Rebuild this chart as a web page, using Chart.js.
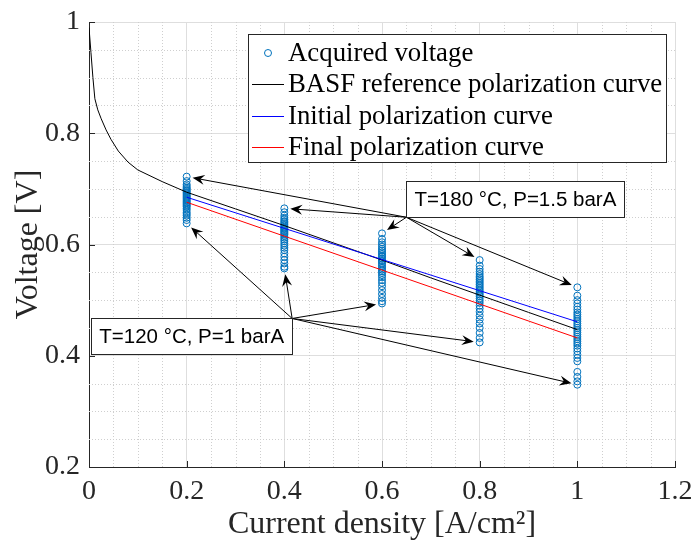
<!DOCTYPE html>
<html lang="en">
<head>
<meta charset="UTF-8">
<title>Polarization curves</title>
<script src="https://cdn.jsdelivr.net/npm/chart.js@4.4.0/dist/chart.umd.min.js"></script>
<style>
  html, body { margin: 0; padding: 0; background: #fff; }
  #wrap { width: 694px; height: 545px; }
</style>
</head>
<body>
<div id="wrap"><canvas id="polChart" width="694" height="545"></canvas></div>
<script>
// current densities where the stack voltage was sampled [A/cm²]
const currents = [0.2, 0.4, 0.6, 0.8, 1.0];

// acquired voltages at each current density [V]
const voltsAt02 = [0.722, 0.714, 0.708, 0.705, 0.702, 0.700, 0.698, 0.696, 0.694, 0.692, 0.690, 0.688, 0.686, 0.684, 0.682,
                   0.680, 0.678, 0.676, 0.674, 0.672, 0.670, 0.668, 0.665, 0.662, 0.658, 0.655, 0.652, 0.648, 0.644, 0.638];
const voltsAt04 = [0.665, 0.658, 0.652, 0.648, 0.645, 0.642, 0.640, 0.637, 0.635, 0.632, 0.630, 0.628, 0.626, 0.624, 0.622,
                   0.620, 0.618, 0.615, 0.612, 0.609, 0.606, 0.602, 0.598, 0.594, 0.590, 0.584, 0.578, 0.572, 0.566, 0.560, 0.557];
const voltsAt06 = [0.620, 0.610, 0.604, 0.600, 0.596, 0.592, 0.589, 0.586, 0.583, 0.580, 0.578, 0.575, 0.572, 0.570, 0.567,
                   0.564, 0.561, 0.558, 0.555, 0.552, 0.549, 0.545, 0.541, 0.536, 0.531, 0.525, 0.518, 0.511, 0.504, 0.498, 0.494];
const voltsAt08 = [0.572, 0.562, 0.556, 0.551, 0.547, 0.543, 0.540, 0.537, 0.534, 0.531, 0.528, 0.525, 0.522, 0.519, 0.516,
                   0.513, 0.510, 0.507, 0.503, 0.499, 0.495, 0.490, 0.485, 0.479, 0.472, 0.465, 0.458, 0.450, 0.441, 0.432, 0.424];
const voltsAt10 = [0.523, 0.508, 0.500, 0.494, 0.488, 0.483, 0.478, 0.474, 0.470, 0.466, 0.462, 0.458, 0.454, 0.450, 0.446,
                   0.442, 0.438, 0.434, 0.430, 0.426, 0.422, 0.418, 0.413, 0.408, 0.402, 0.396, 0.390, 0.371, 0.362, 0.354, 0.348];
const acquired = [voltsAt02, voltsAt04, voltsAt06, voltsAt08, voltsAt10];

// BASF datasheet polarization curve
const basfCurrent = [0, 0.004, 0.008, 0.012, 0.018, 0.025, 0.035, 0.045, 0.06, 0.08, 0.1, 0.15, 0.2,
                     0.3, 0.4, 0.5, 0.6, 0.7, 0.8, 0.9, 1.0];
const basfVoltage = [0.99, 0.945, 0.9, 0.862, 0.842, 0.826, 0.806, 0.789, 0.768, 0.748, 0.734, 0.713, 0.694,
                     0.664, 0.634, 0.603, 0.572, 0.540, 0.509, 0.478, 0.447];

// fitted curves at the start and end of the test
const initialVoltage = [0.685, 0.629, 0.573, 0.517, 0.461];
const finalVoltage = [0.676, 0.615, 0.554, 0.493, 0.432];

const xTicks = [0, 0.2, 0.4, 0.6, 0.8, 1, 1.2];
const yTicks = [0.2, 0.4, 0.6, 0.8, 1];

const seriesNames = ['Acquired voltage', 'BASF reference polarization curve',
                     'Initial polarization curve', 'Final polarization curve'];
const hotLabel = 'T=180 °C, P=1.5 barA';
const coldLabel = 'T=120 °C, P=1 barA';

const seriesColors = ['#0072BD', '#000000', '#0000FF', '#FF0000'];
const AXIS = '#262626';
const SERIF = '"Liberation Serif", "Times New Roman", serif';
const SANS = '"Liberation Sans", Arial, sans-serif';

const pairs = (xs, ys) => xs.map((x, i) => ({ x: x, y: ys[i] }));
const scatterPts = [];
acquired.forEach((col, i) => col.forEach(v => scatterPts.push({ x: currents[i], y: v })));

// dotted minor grid every 0.05 plus inward major ticks
const minorGrid = {
  id: 'minorGrid',
  beforeDatasetsDraw(chart) {
    const { ctx, chartArea: a, scales: { x, y } } = chart;
    ctx.save();
    ctx.strokeStyle = '#cfcfcf';
    ctx.lineWidth = 1;
    ctx.setLineDash([1, 2]);
    ctx.beginPath();
    for (let i = 1; i < 24; i++) {
      if (i % 4 === 0) continue;
      const px = Math.round(x.getPixelForValue(i * 0.05)) + 0.5;
      ctx.moveTo(px, a.top); ctx.lineTo(px, a.bottom);
    }
    for (let i = 1; i < 16; i++) {
      if (i % 4 === 0) continue;
      const py = Math.round(y.getPixelForValue(0.2 + i * 0.05)) + 0.5;
      ctx.moveTo(a.left, py); ctx.lineTo(a.right, py);
    }
    ctx.stroke();
    ctx.setLineDash([]);
    ctx.strokeStyle = AXIS;
    ctx.beginPath();
    xTicks.forEach(v => {
      const px = Math.round(x.getPixelForValue(v)) + 0.5;
      ctx.moveTo(px, a.bottom); ctx.lineTo(px, a.bottom - 6);
    });
    yTicks.forEach(v => {
      const py = Math.round(y.getPixelForValue(v)) + 0.5;
      ctx.moveTo(a.left, py); ctx.lineTo(a.left + 6, py);
    });
    ctx.stroke();
    ctx.restore();
  }
};

function arrow(ctx, x0, y0, x1, y1, gap) {
  const dx = x1 - x0, dy = y1 - y0;
  const len = Math.hypot(dx, dy);
  const ux = dx / len, uy = dy / len;
  const tx = x1 - ux * gap, ty = y1 - uy * gap;
  const L = 12, W = 5;
  ctx.beginPath();
  ctx.moveTo(x0, y0); ctx.lineTo(tx - ux * 6, ty - uy * 6);
  ctx.stroke();
  ctx.beginPath();
  ctx.moveTo(tx, ty);
  ctx.lineTo(tx - ux * L - uy * W, ty - uy * L + ux * W);
  ctx.lineTo(tx - ux * L * 0.65, ty - uy * L * 0.65);
  ctx.lineTo(tx - ux * L + uy * W, ty - uy * L - ux * W);
  ctx.closePath();
  ctx.fill();
}

function textBox(ctx, text, px, py, corner) {
  ctx.font = '20.5px ' + SANS;
  const w = ctx.measureText(text).width + 16;
  const h = 36;
  const left = corner === 'bottomLeft' ? px : px - w;
  const top = corner === 'bottomLeft' ? py - h : py;
  ctx.fillStyle = '#fff';
  ctx.fillRect(left, top, w, h);
  ctx.strokeStyle = AXIS;
  ctx.lineWidth = 1;
  ctx.strokeRect(Math.round(left) + 0.5, Math.round(top) + 0.5, Math.round(w), h);
  ctx.fillStyle = '#000';
  ctx.textAlign = 'center';
  ctx.textBaseline = 'middle';
  ctx.fillText(text, left + w / 2, top + h / 2 + 1);
}

// operating condition callouts pointing at the extreme samples of each column
const callouts = {
  id: 'callouts',
  afterDatasetsDraw(chart) {
    const { ctx, scales: { x, y } } = chart;
    ctx.save();
    ctx.strokeStyle = '#000';
    ctx.fillStyle = '#000';
    ctx.lineWidth = 1;
    const hx = x.getPixelForValue(0.65), hy = y.getPixelForValue(0.649);
    currents.forEach((c, i) => {
      arrow(ctx, hx, hy, x.getPixelForValue(c), y.getPixelForValue(Math.max(...acquired[i])), 6);
    });
    const cx = x.getPixelForValue(0.416), cy = y.getPixelForValue(0.467);
    currents.forEach((c, i) => {
      arrow(ctx, cx, cy, x.getPixelForValue(c), y.getPixelForValue(Math.min(...acquired[i])), 6);
    });
    textBox(ctx, hotLabel, hx, hy, 'bottomLeft');
    textBox(ctx, coldLabel, cx, cy, 'topRight');
    ctx.restore();
  }
};

// boxed legend in the upper part of the axes
const boxLegend = {
  id: 'boxLegend',
  afterDraw(chart) {
    const { ctx, chartArea: a } = chart;
    ctx.save();
    ctx.font = '26.8px ' + SERIF;
    const tw = Math.max(...seriesNames.map(s => ctx.measureText(s).width));
    const left = a.left + 159, top = a.top + 12;
    const w = 40 + tw + 4, h = 128;
    ctx.fillStyle = '#fff';
    ctx.fillRect(left, top, w, h);
    ctx.strokeStyle = AXIS;
    ctx.lineWidth = 1;
    ctx.strokeRect(Math.round(left) + 0.5, Math.round(top) + 0.5, Math.round(w), h);
    seriesNames.forEach((name, i) => {
      const ry = top + 19 + i * 31.3;
      if (i === 0) {
        ctx.strokeStyle = seriesColors[0];
        ctx.beginPath();
        ctx.arc(left + 20, ry, 3.5, 0, Math.PI * 2);
        ctx.stroke();
      } else {
        ctx.fillStyle = seriesColors[i];
        ctx.fillRect(left + 4, Math.round(ry), 32, 1);
      }
      ctx.fillStyle = '#000';
      ctx.textAlign = 'left';
      ctx.textBaseline = 'middle';
      ctx.fillText(name, left + 40, ry + 1);
    });
    ctx.restore();
  }
};

new Chart(document.getElementById('polChart'), {
  type: 'scatter',
  data: {
    datasets: [
      { label: seriesNames[0], data: scatterPts, showLine: false, order: 10,
        pointStyle: 'circle', pointRadius: 3.5, pointBorderWidth: 1,
        borderColor: seriesColors[0], backgroundColor: 'rgba(0,0,0,0)' },
      { label: seriesNames[1], data: pairs(basfCurrent, basfVoltage), showLine: true, order: 3,
        pointRadius: 0, borderWidth: 1, borderColor: seriesColors[1], tension: 0 },
      { label: seriesNames[2], data: pairs(currents, initialVoltage), showLine: true, order: 2,
        pointRadius: 0, borderWidth: 1, borderColor: seriesColors[2], tension: 0 },
      { label: seriesNames[3], data: pairs(currents, finalVoltage), showLine: true, order: 1,
        pointRadius: 0, borderWidth: 1, borderColor: seriesColors[3], tension: 0 }
    ]
  },
  options: {
    responsive: false,
    animation: false,
    devicePixelRatio: 1,
    layout: { padding: { top: 22, right: 19, left: 0, bottom: 0 } },
    plugins: { legend: { display: false }, tooltip: { enabled: false } },
    scales: {
      x: {
        type: 'linear', min: 0, max: 1.2,
        afterBuildTicks: s => { s.ticks = xTicks.map(v => ({ value: v })); },
        afterFit: s => { s.height = 78; s.paddingLeft = 0; s.paddingRight = 0; },
        ticks: { color: AXIS, padding: 8, maxRotation: 0, font: { family: SERIF, size: 28 },
                 callback: v => String(+v.toFixed(2)) },
        grid: { color: '#dedede', lineWidth: 1, drawTicks: false },
        border: { color: AXIS, width: 1 },
        title: { display: true, text: 'Current density [A/cm²]', color: AXIS,
                 font: { family: SERIF, size: 32 }, padding: { top: 0, bottom: 1 } }
      },
      y: {
        type: 'linear', min: 0.2, max: 1,
        afterBuildTicks: s => { s.ticks = yTicks.map(v => ({ value: v })); },
        afterFit: s => { s.width = 89; s.paddingTop = 0; s.paddingBottom = 0; },
        ticks: { color: AXIS, padding: 9, font: { family: SERIF, size: 28 },
                 callback: v => String(+v.toFixed(2)) },
        grid: { color: '#dedede', lineWidth: 1, drawTicks: false },
        border: { color: AXIS, width: 1 },
        title: { display: true, text: 'Voltage [V]', color: AXIS,
                 font: { family: SERIF, size: 32 }, padding: { top: 9, bottom: 0 } }
      }
    }
  },
  plugins: [minorGrid, callouts, boxLegend]
});
</script>
</body>
</html>
